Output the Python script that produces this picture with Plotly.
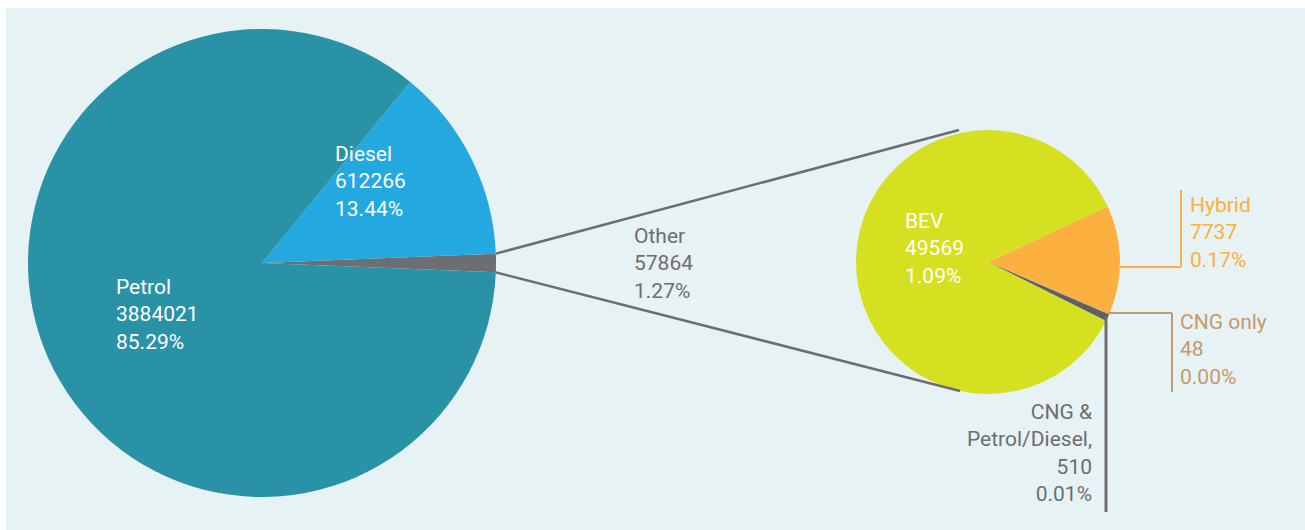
import math
import plotly.graph_objects as go

# ---- data ----
main_labels = ["Other", "Diesel", "Petrol"]
main_values = [57864, 612266, 3884021]
main_colors = ["#6d6e71", "#24a8e0", "#2a92a7"]

other_labels = ["Hybrid", "CNG only", "CNG &<br>Petrol/Diesel,", "BEV"]
other_values = [7737, 48, 510, 49569]
other_colors = ["#fbb040", "#c49a6c", "#5f6062", "#d5e021"]
other_text_colors = ["#fbb040", "#c49a6c", "#6d6e71", "#ffffff"]

W, H = 1305, 530
total = sum(main_values)
FONT = "Roboto"
FS = 21

def px(x):
    return x / W

def py(y):
    return 1 - y / H

def label(name, v):
    return f"{name}<br>{v}<br>{v / total * 100:.2f}%"

# geometry (pixels)
big_c, big_r = (262, 263), 234
sm_c, sm_r = (988, 262), 132

fig = go.Figure()

other_frac = main_values[0] / total
fig.add_trace(go.Pie(
    labels=main_labels, values=main_values, sort=False,
    direction="counterclockwise", rotation=90 - other_frac * 180,
    marker=dict(colors=main_colors, line=dict(width=0)),
    textinfo="none", hoverinfo="label+value+percent", showlegend=False,
    domain=dict(x=[px(big_c[0] - big_r), px(big_c[0] + big_r)],
                y=[py(big_c[1] + big_r), py(big_c[1] - big_r)]),
))

fig.add_trace(go.Pie(
    labels=other_labels, values=other_values, sort=False,
    direction="clockwise", rotation=65,
    marker=dict(colors=other_colors, line=dict(width=0)),
    textinfo="none", hoverinfo="label+value", showlegend=False,
    domain=dict(x=[px(sm_c[0] - sm_r), px(sm_c[0] + sm_r)],
                y=[py(sm_c[1] + sm_r), py(sm_c[1] - sm_r)]),
))

shapes = [
    dict(type="rect", xref="paper", yref="paper", x0=px(6), x1=1, y0=0, y1=py(8),
         fillcolor="#e7f2f4", line=dict(width=0), layer="below"),
]

def seg(x0, y0, x1, y1, color, w=2.5):
    shapes.append(dict(type="line", xref="paper", yref="paper",
                       x0=px(x0), y0=py(y0), x1=px(x1), y1=py(y1),
                       line=dict(color=color, width=w)))

# connector lines from the "Other" wedge to the breakdown pie
half = other_frac * math.pi
ex = big_c[0] + big_r * math.cos(half)
seg(ex, big_c[1] - big_r * math.sin(half), 959, 130, "#6d6e71")
seg(ex, big_c[1] + big_r * math.sin(half), 960, 391, "#6d6e71")

# leader lines
seg(1120, 267, 1181, 267, "#fbb040", 2)
seg(1181, 267, 1181, 190, "#fbb040", 2)
seg(1108, 313, 1172, 313, "#c49a6c", 2)
seg(1172, 313, 1172, 392, "#c49a6c", 2)
seg(1106, 316, 1106, 512, "#6d6e71", 3)

ann = []

def add_text(x, y, text, color, xanchor="left", align="left"):
    ann.append(dict(xref="paper", yref="paper", x=px(x), y=py(y), text=text,
                    showarrow=False, xanchor=xanchor, yanchor="middle", align=align,
                    font=dict(family=FONT, size=FS, color=color)))

add_text(114, 314, label("Petrol", main_values[2]), "#ffffff")
add_text(333, 182, label("Diesel", main_values[1]), "#ffffff")
add_text(632, 263, label("Other", main_values[0]), "#6d6e71")
add_text(903, 248, label("BEV", other_values[3]), "#ffffff")
add_text(1188, 232, label("Hybrid", other_values[0]), other_text_colors[0])
add_text(1178, 349, label("CNG only", other_values[1]), other_text_colors[1])
add_text(1094, 453, label(other_labels[2], other_values[2]), other_text_colors[2],
         xanchor="right", align="right")

fig.update_layout(
    width=W, height=H, margin=dict(l=0, r=0, t=0, b=0),
    paper_bgcolor="#ffffff", plot_bgcolor="#ffffff",
    shapes=shapes, annotations=ann,
    font=dict(family=FONT),
)

fig.write_html("out.html", config={"displayModeBar": False},
               post_script="document.body.style.margin='0px';document.body.style.overflow='hidden';")
